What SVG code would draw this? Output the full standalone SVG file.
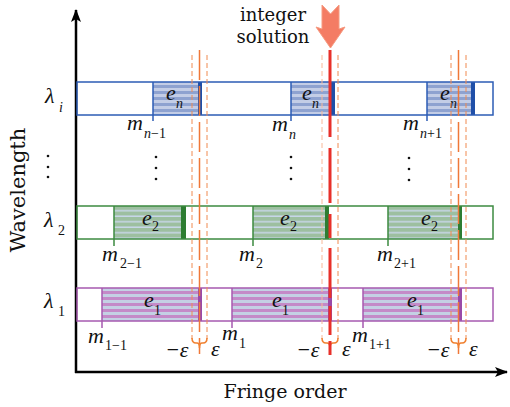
<svg xmlns="http://www.w3.org/2000/svg" width="510" height="407" viewBox="0 0 510 407">
<defs>
<pattern id="pBlue" patternUnits="userSpaceOnUse" x="0" y="82" width="8" height="6"><rect width="8" height="6" fill="#c3cde6"/><rect y="3" width="8" height="3" fill="#8ea2d0"/></pattern>
<pattern id="pGreen" patternUnits="userSpaceOnUse" x="0" y="206" width="8" height="5.5"><rect width="8" height="5.5" fill="#9dbfa0"/><rect y="4" width="8" height="1.5" fill="#c8d6e8"/></pattern>
<pattern id="pPurple" patternUnits="userSpaceOnUse" x="0" y="288" width="8" height="6"><rect width="8" height="6" fill="#c4d0e4"/><rect y="3" width="8" height="3" fill="#c48ac8"/></pattern>
<marker id="ah" markerWidth="14" markerHeight="10" refX="12" refY="5" orient="auto" markerUnits="userSpaceOnUse"><path d="M0,0 L13,5 L0,10 L3,5 Z" fill="#000"/></marker>
</defs>
<style>
.ax{stroke:#000;stroke-width:2.5;fill:none}
.lbl{font-family:"DejaVu Serif","Liberation Serif",serif;fill:#111}
.mi{font-family:"Liberation Serif","DejaVu Serif",serif;font-style:italic;fill:#111;font-size:22px}
.sub{font-family:"Liberation Serif","DejaVu Serif",serif;fill:#111;font-size:14px}
.it{font-style:italic}
.blue{stroke:#2d5cb5;stroke-width:1.5;fill:none}
.green{stroke:#3d8b40;stroke-width:1.5;fill:none}
.purple{stroke:#a65ab0;stroke-width:1.5;fill:none}
.side{stroke:#f08a50;stroke-width:1;stroke-dasharray:5 3;fill:none}
.cen{stroke:#f07838;stroke-width:1.5;stroke-dasharray:30 6;fill:none}
.brace{stroke:#f08030;stroke-width:1.5;fill:none}
.dot{fill:#111}
</style>

<!-- axes -->
<g id="axes">
<line class="ax" x1="76" y1="373" x2="76" y2="10" marker-end="url(#ah)"/>
<line class="ax" x1="75" y1="372" x2="507" y2="372" marker-end="url(#ah)"/>
<text class="lbl" font-size="21" text-anchor="middle" transform="translate(25,190) rotate(-90)">Wavelength</text>
<text class="lbl" font-size="19" x="285" y="398" text-anchor="middle">Fringe order</text>
</g>

<!-- row lambda_i -->
<g id="row-i">
<rect x="153" y="82" width="47" height="33" fill="url(#pBlue)"/>
<rect x="291" y="82" width="41" height="33" fill="url(#pBlue)"/>
<rect x="427" y="82" width="46" height="33" fill="url(#pBlue)"/>
<rect x="198" y="82" width="4" height="33" fill="#1f4fa8"/>
<rect x="331" y="82" width="4" height="33" fill="#1f4fa8"/>
<rect x="471" y="82" width="4" height="33" fill="#1f4fa8"/>
<rect class="blue" x="77" y="82" width="416" height="33"/>
<path class="blue" d="M153,82 V121 M291,82 V121 M427,82 V121"/>
<text class="mi" font-size="24" x="45" y="103">λ</text><text class="sub it" x="59" y="112">i</text>
<text class="mi" x="166" y="100">e</text><text class="sub it" x="176" y="108">n</text>
<text class="mi" x="302" y="100">e</text><text class="sub it" x="312" y="108">n</text>
<text class="mi" x="440" y="100">e</text><text class="sub it" x="450" y="108">n</text>
<text class="mi" x="127" y="130">m</text><text class="sub" x="144" y="138"><tspan class="it">n</tspan>−1</text>
<text class="mi" x="272" y="131">m</text><text class="sub it" x="289" y="139">n</text>
<text class="mi" x="403" y="130">m</text><text class="sub" x="420" y="138"><tspan class="it">n</tspan>+1</text>
</g>

<!-- vertical dots -->
<g id="dots">
<circle class="dot" cx="48" cy="156" r="1.3"/><circle class="dot" cx="48" cy="167" r="1.3"/><circle class="dot" cx="48" cy="177" r="1.3"/>
<circle class="dot" cx="156" cy="157" r="1.3"/><circle class="dot" cx="156" cy="168" r="1.3"/><circle class="dot" cx="156" cy="179" r="1.3"/>
<circle class="dot" cx="291" cy="157" r="1.3"/><circle class="dot" cx="291" cy="168" r="1.3"/><circle class="dot" cx="291" cy="179" r="1.3"/>
<circle class="dot" cx="409" cy="158" r="1.3"/><circle class="dot" cx="409" cy="169" r="1.3"/><circle class="dot" cx="409" cy="180" r="1.3"/>
</g>

<!-- row lambda_2 -->
<g id="row-2">
<rect x="114" y="206" width="72" height="33" fill="url(#pGreen)"/>
<rect x="253" y="206" width="76" height="33" fill="url(#pGreen)"/>
<rect x="388" y="206" width="74" height="33" fill="url(#pGreen)"/>
<rect x="181" y="206" width="5" height="33" fill="#2e7d32"/>
<rect x="325" y="206" width="4" height="33" fill="#2e7d32"/>
<rect x="458" y="206" width="4" height="33" fill="#2e7d32"/>
<rect class="green" x="77" y="206" width="416" height="33"/>
<path class="green" d="M114,206 V246 M253,206 V246 M388,206 V246"/>
<text class="mi" font-size="24" x="44" y="227">λ</text><text class="sub" x="58" y="235">2</text>
<text class="mi" x="142" y="225">e</text><text class="sub" x="152" y="231">2</text>
<text class="mi" x="280" y="225">e</text><text class="sub" x="290" y="231">2</text>
<text class="mi" x="421" y="225">e</text><text class="sub" x="431" y="231">2</text>
<text class="mi" x="102" y="261">m</text><text class="sub" x="120" y="268">2−1</text>
<text class="mi" x="239" y="261">m</text><text class="sub" x="256" y="268">2</text>
<text class="mi" x="377" y="261">m</text><text class="sub" x="394" y="268">2+1</text>
</g>

<!-- row lambda_1 -->
<g id="row-1">
<rect x="102" y="288" width="100" height="33" fill="url(#pPurple)"/>
<rect x="232" y="288" width="100" height="33" fill="url(#pPurple)"/>
<rect x="363" y="288" width="99" height="33" fill="url(#pPurple)"/>
<rect x="198" y="288" width="4" height="33" fill="#9a4aa8"/>
<rect x="328" y="288" width="4" height="33" fill="#9a4aa8"/>
<rect x="458" y="288" width="4" height="33" fill="#9a4aa8"/>
<rect class="purple" x="77" y="288" width="416" height="33"/>
<path class="purple" d="M102,288 V328 M232,288 V328 M363,288 V328"/>
<text class="mi" font-size="24" x="44" y="308">λ</text><text class="sub" x="58" y="316">1</text>
<text class="mi" x="144" y="307">e</text><text class="sub" x="154" y="315">1</text>
<text class="mi" x="272" y="307">e</text><text class="sub" x="282" y="315">1</text>
<text class="mi" x="407" y="307">e</text><text class="sub" x="417" y="315">1</text>
<text class="mi" x="88" y="343">m</text><text class="sub" x="105" y="350">1−1</text>
<text class="mi" x="222" y="340">m</text><text class="sub" x="239" y="348">1</text>
<text class="mi" x="352" y="342">m</text><text class="sub" x="369" y="349">1+1</text>
</g>

<!-- connectors: error bands and integer-solution line -->
<g id="connectors">
<path class="side" d="M192,55 V339 M207,55 V339"/>
<path class="side" d="M451,55 V339 M466,55 V339"/>
<path class="side" style="stroke:#f8b898" d="M322,55 V339"/>
<path class="side" d="M338,55 V339"/>
<line class="cen" x1="199.5" y1="50" x2="199.5" y2="354"/>
<line class="cen" x1="458.5" y1="50" x2="458.5" y2="354"/>
<path class="brace" d="M192,338 Q192,343 196,343 L197,343 Q199.5,343 199.5,348 Q199.5,343 202,343 L203,343 Q207,343 207,338"/>
<path class="brace" d="M322,338 Q322,343 326,343 L327,343 Q330,343 330,348 Q330,343 333,343 L334,343 Q338,343 338,338"/>
<path class="brace" d="M451,338 Q451,343 455,343 L456,343 Q458.5,343 458.5,348 Q458.5,343 461,343 L462,343 Q466,343 466,338"/>
<path d="M330,50 V137 M330,148 V203 M330,214 V238 M330,248 V298 M330,306 V335 M330,341 V355" stroke="#e8302a" stroke-width="3" fill="none"/>
</g>

<!-- epsilon labels -->
<g id="eps">
<text class="mi" x="165" y="357">−ε</text><text class="mi" x="211" y="356">ε</text>
<text class="mi" x="296" y="357">−ε</text><text class="mi" x="342" y="356">ε</text>
<text class="mi" x="426" y="357">−ε</text><text class="mi" x="469" y="356">ε</text>
</g>

<!-- integer solution marker -->
<g id="integer-solution">
<path d="M322,5 L330.5,14 L339,5 L339,29 L345,27 L330.5,48 L316,27 L322,29 Z" fill="#f47c64" stroke="#f69a80" stroke-width="1"/>
<text class="lbl" font-size="18" x="273" y="21" text-anchor="middle">integer</text>
<text class="lbl" font-size="18" x="273" y="43" text-anchor="middle">solution</text>
</g>
</svg>
